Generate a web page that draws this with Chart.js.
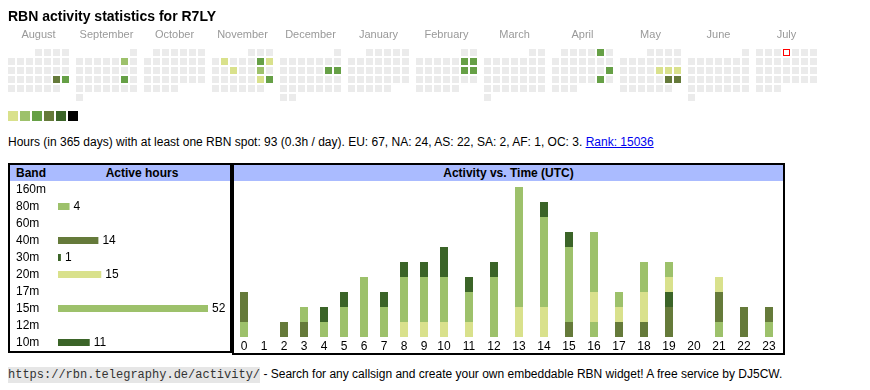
<!DOCTYPE html>
<html><head><meta charset="utf-8">
<script src="https://cdn.jsdelivr.net/npm/chart.js@4.4.1/dist/chart.umd.min.js"></script>
<style>
html,body{margin:0;padding:0;background:#fff;}
body{width:870px;height:390px;position:relative;overflow:hidden;font-family:"Liberation Sans",Arial,sans-serif;font-size:12px;color:#000;}
.abs{position:absolute;}
#heat{left:0;top:0;}
#title{left:8px;top:8px;font-size:14px;font-weight:bold;line-height:16px;white-space:nowrap;}
#legend{left:8px;top:111px;width:80px;height:10px;}
#legend span{position:absolute;top:0;width:10px;height:10px;}
#info{left:8px;top:135px;line-height:14px;white-space:nowrap;}
#info a{color:#0000ee;text-decoration:underline;}
.box{position:absolute;box-sizing:border-box;border:2px solid #000;background:#fff;}
#bandBox{left:8px;top:163px;width:224px;height:190px;}
#actBox{left:232px;top:163px;width:553px;height:192px;}
.hdr{position:absolute;left:0;right:0;top:0;height:16px;background:#aabbff;font-weight:bold;line-height:16px;white-space:nowrap;}
.hdr span{position:absolute;top:0;}
.box canvas{position:absolute;left:0;top:16px;}
#footer{left:8px;top:367px;line-height:14px;white-space:nowrap;}
#footer .mono{font-family:"Liberation Mono","DejaVu Sans Mono",monospace;font-size:12px;background:#e6e6e6;color:#333;padding:1px 0;}
</style>
</head>
<body>
<canvas id="heat" class="abs" width="870" height="105"></canvas>
<div id="title" class="abs">RBN activity statistics for R7LY</div>
<div id="legend" class="abs"></div>
<div id="info" class="abs">Hours (in 365 days) with at least one RBN spot: 93 (0.3h / day). EU: 67, NA: 24, AS: 22, SA: 2, AF: 1, OC: 3. <a href="#">Rank: 15036</a></div>
<div id="bandBox" class="box">
  <div class="hdr"><span style="left:6px">Band</span><span style="left:48px;width:168px;text-align:center">Active hours</span></div>
  <canvas id="bands" width="220" height="170"></canvas>
</div>
<div id="actBox" class="box">
  <div class="hdr" style="text-align:center">Activity vs. Time (UTC)</div>
  <canvas id="act" width="549" height="172"></canvas>
</div>
<div id="footer" class="abs"><span class="mono">https://rbn.telegraphy.de/activity/</span> - Search for any callsign and create your own embeddable RBN widget! A free service by DJ5CW.</div>

<script>
// ---------------- data ----------------
const MONTHS = ['August','September','October','November','December','January','February','March','April','May','June','July'];
const MONTH_NUMS = [8,9,10,11,12,1,2,3,4,5,6,7];
const BLOCK_YEARS = [2024,2024,2024,2024,2024,2025,2025,2025,2025,2025,2025,2024];
const MARKED_DAY = '2024-07-04';
const ACTIVE_DAYS = ['2024-08-24','2024-08-25','2024-09-07','2024-09-21',
  '2024-11-05','2024-11-09','2024-11-10','2024-11-13','2024-11-16','2024-11-23','2024-11-24',
  '2024-12-14','2024-12-15','2025-02-08','2025-02-09','2025-02-15','2025-02-16',
  '2025-04-05','2025-04-20','2025-04-26','2025-05-16','2025-05-17','2025-05-18','2025-05-24','2025-05-25'];
const ACTIVE_LEVELS = [4,3,2,3, 1,3,1,1,2,1,3, 3,3,3,3,3,3, 3,3,3,1,1,1,4,4];
const LEVEL_COLORS = ['#ebebeb','#d9e18c','#9dc16b','#66a046','#657a3a','#3b6428','#000000'];

const BANDS = ['160m','80m','60m','40m','30m','20m','17m','15m','12m','10m'];
const BAND_HOURS = [0,4,0,14,1,15,0,52,0,11];
const BAND_COLORS = ['#9dc16b','#9dc16b','#9dc16b','#657a3a','#3b6428','#d9e18c','#9dc16b','#9dc16b','#9dc16b','#3b6428'];

const HOURS = ['0','1','2','3','4','5','6','7','8','9','10','11','12','13','14','15','16','17','18','19','20','21','22','23'];
const ACT_80M = [1,0,0,0,0,0,0,0,0,0,0,0,0,0,0,0,1,0,0,0,0,1,0,1];
const ACT_40M = [2,0,1,1,0,0,0,0,0,0,0,0,0,0,0,1,0,1,1,2,0,2,2,1];
const ACT_30M = [0,0,0,0,0,0,0,0,0,0,0,0,0,0,0,0,0,0,0,1,0,0,0,0];
const ACT_20M = [0,0,0,0,0,0,0,0,1,1,1,1,0,2,2,0,2,1,2,1,0,1,0,0];
const ACT_15M = [0,0,0,1,1,2,4,2,3,3,3,2,4,8,6,5,4,1,2,1,0,0,0,0];
const ACT_10M = [0,0,0,0,1,1,0,1,1,1,2,1,1,0,1,1,0,0,0,0,0,0,0,0];
const ACT_SERIES = [
  {label:'80m', data:ACT_80M, color:'#9dc16b'},
  {label:'40m', data:ACT_40M, color:'#657a3a'},
  {label:'30m', data:ACT_30M, color:'#3b6428'},
  {label:'20m', data:ACT_20M, color:'#d9e18c'},
  {label:'15m', data:ACT_15M, color:'#9dc16b'},
  {label:'10m', data:ACT_10M, color:'#3b6428'}
];

// ---------------- setup ----------------
Chart.defaults.font.family = '"Liberation Sans", Arial, sans-serif';
Chart.defaults.font.size = 12;
Chart.defaults.color = '#000';
const common = {responsive:false, animation:false, events:[],
  plugins:{legend:{display:false}, tooltip:{enabled:false}}};
const noPad = s => { s.paddingLeft = 0; s.paddingRight = 0; s.paddingTop = 0; s.paddingBottom = 0; };

// legend squares
const lg = document.getElementById('legend');
LEVEL_COLORS.slice(1).forEach((c,i)=>{const s=document.createElement('span');s.style.left=(i*12)+'px';s.style.background=c;lg.appendChild(s);});

// ---------------- heatmap ----------------
const PITCH = 9;               // px per cell
const MONTH_STEP = 68 / PITCH; // month block spacing in cell units
const ORIGIN_X = 8 + 3.5, ORIGIN_Y = 49 + 3.5, AXIS_H = 42, HEAT_W = 870, HEAT_H = 105;
const levelOf = {};
ACTIVE_DAYS.forEach((d,i)=>levelOf[d]=ACTIVE_LEVELS[i]);
const cells = [];
let markedCell = null;
MONTHS.forEach((name, m) => {
  const y = BLOCK_YEARS[m];
  const mo = MONTH_NUMS[m] - 1;
  const nDays = new Date(Date.UTC(y, mo + 1, 0)).getUTCDate();
  const firstCol = (new Date(Date.UTC(y, mo, 1)).getUTCDay() + 6) % 7;
  for (let d = 1; d <= nDays; d++) {
    const idx = firstCol + d - 1;
    const key = y + '-' + String(mo+1).padStart(2,'0') + '-' + String(d).padStart(2,'0');
    const c = {x: m * MONTH_STEP + idx % 7, y: Math.floor(idx / 7), level: levelOf[key] || 0};
    if (key === MARKED_DAY) markedCell = {x:c.x, y:c.y};
    else cells.push(c);
  }
});
const marked = markedCell ? [markedCell] : [];
const sq = (side, color) => ({pointStyle:'rect', pointRadius:side/Math.SQRT2, pointBorderWidth:0, borderWidth:0,
  pointBackgroundColor:color, backgroundColor:color});
new Chart(document.getElementById('heat'), {
  type:'scatter',
  data:{datasets:[
    Object.assign({data:marked}, sq(5, '#ffffff')),   // drawn last (on top)
    Object.assign({data:marked}, sq(7, '#ff0000')),
    Object.assign({data:cells}, sq(7, ctx=>LEVEL_COLORS[ctx.raw ? ctx.raw.level : 0]))
  ]},
  options:Object.assign({}, common, {
    layout:{padding:0, autoPadding:false},
    scales:{
      x:{type:'linear', position:'top', bounds:'data', offset:false,
         min:-ORIGIN_X/PITCH, max:(HEAT_W-ORIGIN_X)/PITCH,
         grid:{display:false, drawTicks:false}, border:{display:false},
         afterBuildTicks:s=>{s.ticks = MONTHS.map((_,m)=>({value:m*MONTH_STEP+3}));},
         afterFit:s=>{s.height = AXIS_H; noPad(s);},
         ticks:{autoSkip:false, maxRotation:0, padding:0, color:'#999', font:{size:11},
                callback:(v,i)=>MONTHS[i]}},
      y:{display:false, reverse:true, min:(AXIS_H-ORIGIN_Y)/PITCH, max:(HEAT_H-ORIGIN_Y)/PITCH}
    }
  })
});

// ---------------- band table ----------------
const BAND_PX_PER_HOUR = 150/52;
new Chart(document.getElementById('bands'), {
  type:'bar',
  data:{labels:BANDS, datasets:[{data:BAND_HOURS, backgroundColor:BAND_COLORS, borderWidth:0, barThickness:7, inflateAmount:0}]},
  options:Object.assign({}, common, {
    indexAxis:'y',
    layout:{padding:{left:6, right:0, top:0, bottom:0}, autoPadding:false},
    scales:{
      x:{display:false, min:0, max:172/BAND_PX_PER_HOUR},
      y:{grid:{display:false, drawTicks:false}, border:{display:false},
         afterFit:s=>{s.width = 42; noPad(s);},
         ticks:{crossAlign:'far', padding:0, autoSkip:false, color:'#000', font:{size:12}}}
    }
  }),
  plugins:[{id:'vals', afterDatasetsDraw(chart){
    const ctx = chart.ctx; const meta = chart.getDatasetMeta(0);
    ctx.save(); ctx.font = '12px "Liberation Sans", Arial, sans-serif'; ctx.fillStyle = '#000';
    ctx.textBaseline = 'middle'; ctx.textAlign = 'left';
    meta.data.forEach((el,i)=>{ const v = BAND_HOURS[i]; if (v) ctx.fillText(String(v), el.x + 4, el.y); });
    ctx.restore();
  }}]
});

// ---------------- activity vs time ----------------
// column layout like a table: width depends on the label length
const colLeft = []; let acc = 0;
HOURS.forEach(h=>{colLeft.push(acc); acc += (h.length === 1 ? 20 : 25);});
const BAR_OFFSET = 10;
const hourPos = colLeft.map(l=>l + BAR_OFFSET);
new Chart(document.getElementById('act'), {
  type:'bar',
  data:{datasets:ACT_SERIES.map(s=>({label:s.label, backgroundColor:s.color, borderWidth:0, barThickness:8, inflateAmount:0,
        data:s.data.map((v,i)=>({x:hourPos[i], y:v}))}))},
  options:Object.assign({}, common, {
    layout:{padding:{left:0, right:0, top:6, bottom:0}, autoPadding:false},
    scales:{
      x:{type:'linear', stacked:true, offset:false, bounds:'data', min:0, max:549,
         grid:{display:false, drawTicks:false}, border:{display:false},
         afterBuildTicks:s=>{s.ticks = hourPos.map(p=>({value:p}));},
         afterFit:s=>{s.height = 16; noPad(s);},
         ticks:{autoSkip:false, maxRotation:0, padding:2, color:'#000', font:{size:12},
                callback:(v,i)=>HOURS[i]}},
      y:{display:false, stacked:true, min:0, max:10}
    }
  })
});
</script>
</body></html>
